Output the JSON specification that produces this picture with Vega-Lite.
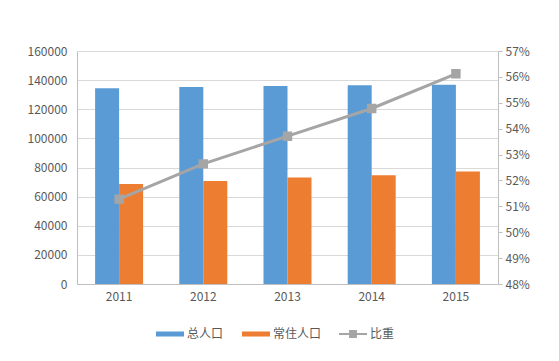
{
  "$schema": "https://vega.github.io/schema/vega-lite/v6.json",
  "width": 421,
  "height": 233,
  "autosize": "none",
  "padding": {"left": 77, "top": 51, "right": 61, "bottom": 77},
  "background": "white",
  "config": {
    "font": "Noto Sans CJK SC",
    "view": {"stroke": null},
    "axis": {
      "labelFont": "Noto Sans CJK SC",
      "labelColor": "#595959",
      "labelFontSize": 12,
      "domainColor": "#bfbfbf",
      "tickColor": "#bfbfbf",
      "gridColor": "#d9d9d9",
      "title": null
    },
    "legend": {
      "labelFont": "Noto Sans CJK SC",
      "labelColor": "#595959",
      "labelFontSize": 12,
      "title": null
    }
  },
  "datasets": {
    "pop": [
      {"year": "2011", "series": "总人口", "value": 134500},
      {"year": "2011", "series": "常住人口", "value": 68700},
      {"year": "2012", "series": "总人口", "value": 135200},
      {"year": "2012", "series": "常住人口", "value": 70700},
      {"year": "2013", "series": "总人口", "value": 136000},
      {"year": "2013", "series": "常住人口", "value": 73200},
      {"year": "2014", "series": "总人口", "value": 136400},
      {"year": "2014", "series": "常住人口", "value": 74600},
      {"year": "2015", "series": "总人口", "value": 136900},
      {"year": "2015", "series": "常住人口", "value": 77300}
    ],
    "ratio": [
      {"year": "2011", "name": "比重", "ratio": 0.5128},
      {"year": "2012", "name": "比重", "ratio": 0.5264},
      {"year": "2013", "name": "比重", "ratio": 0.5371},
      {"year": "2014", "name": "比重", "ratio": 0.5478},
      {"year": "2015", "name": "比重", "ratio": 0.5612}
    ]
  },
  "layer": [
    {
      "data": {"name": "pop"},
      "mark": {"type": "bar"},
      "encoding": {
        "x": {
          "field": "year", "type": "nominal",
          "scale": {"paddingInner": 0.43, "paddingOuter": 0.215},
          "axis": {"labelAngle": 0, "ticks": false, "labelPadding": 7, "domain": true}
        },
        "xOffset": {
          "field": "series", "type": "nominal",
          "sort": ["总人口", "常住人口"],
          "scale": {"paddingInner": 0, "paddingOuter": 0}
        },
        "y": {
          "field": "value", "type": "quantitative",
          "scale": {"domain": [0, 160000], "nice": false},
          "axis": {
            "orient": "left",
            "values": [0, 20000, 40000, 60000, 80000, 100000, 120000, 140000, 160000],
            "format": "d",
            "grid": true,
            "ticks": false,
            "labelPadding": 10,
            "domain": true
          }
        },
        "fill": {
          "field": "series", "type": "nominal",
          "sort": ["总人口", "常住人口"],
          "scale": {"domain": ["总人口", "常住人口"], "range": ["#5b9bd5", "#ed7d31"]},
          "legend": {
            "orient": "none",
            "legendX": 79,
            "legendY": 269,
            "direction": "horizontal",
            "symbolType": "M-1,-0.18H1V0.18H-1Z",
            "symbolSize": 784,
            "symbolStrokeWidth": 0,
            "labelOffset": 3,
            "columnPadding": 18
          }
        }
      }
    },
    {
      "data": {"name": "ratio"},
      "mark": {
        "type": "line",
        "color": "#a5a5a5",
        "strokeWidth": 3,
        "point": {"shape": "square", "filled": true, "size": 55, "color": "#a5a5a5"}
      },
      "encoding": {
        "x": {"field": "year", "type": "nominal", "bandPosition": 0.5},
        "y": {
          "field": "ratio", "type": "quantitative",
          "scale": {"domain": [0.48, 0.57], "nice": false, "zero": false},
          "axis": {
            "orient": "right",
            "values": [0.48, 0.49, 0.5, 0.51, 0.52, 0.53, 0.54, 0.55, 0.56, 0.57],
            "format": ".0%",
            "grid": false,
            "ticks": true,
            "tickSize": 4,
            "labelPadding": 3,
            "domain": true
          }
        },
        "stroke": {
          "field": "name", "type": "nominal",
          "scale": {"domain": ["比重"], "range": ["#a5a5a5"]},
          "legend": {
            "orient": "none",
            "legendX": 262,
            "legendY": 269,
            "symbolType": "M-1,-0.07H1V0.07H-1Z M-0.28,-0.28H0.28V0.28H-0.28Z",
            "symbolSize": 784,
            "symbolFillColor": "#a5a5a5",
            "symbolStrokeWidth": 0,
            "labelOffset": 3
          }
        }
      }
    }
  ],
  "resolve": {"scale": {"y": "independent"}}
}
